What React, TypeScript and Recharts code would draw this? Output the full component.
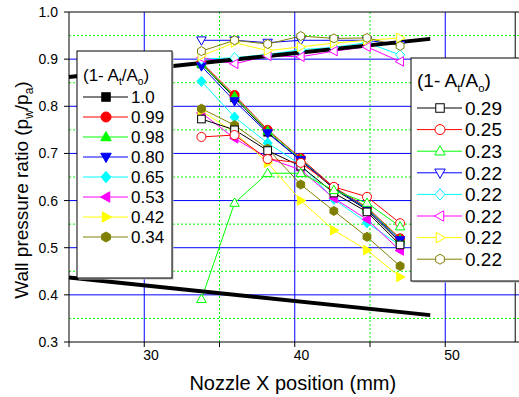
import React from "react";
import { LineChart, Line, XAxis, YAxis, ReferenceLine } from "recharts";

// nozzle positions (mm)
const xPositions = [33.8, 36, 38.2, 40.4, 42.6, 44.8, 47];

// filled symbols
const ratio100 = [0.89, 0.818, 0.745, 0.685, 0.625, 0.58, 0.512];
const ratio099 = [0.893, 0.824, 0.75, 0.69, 0.628, 0.586, 0.52];
const ratio098 = [0.89, 0.821, 0.748, 0.688, 0.626, 0.584, 0.518];
const ratio080 = [0.885, 0.811, 0.743, 0.686, 0.627, 0.582, 0.516];
const ratio065 = [0.853, 0.777, 0.722, 0.676, 0.603, 0.553, 0.505];
const ratio053 = [0.786, 0.732, 0.69, 0.665, 0.605, 0.56, 0.494];
const ratio042 = [0.79, 0.745, 0.68, 0.6, 0.537, 0.495, 0.438];
const ratio034 = [0.795, 0.76, 0.71, 0.634, 0.578, 0.523, 0.461];

// open symbols
const ratio029 = [0.773, 0.75, 0.706, 0.673, 0.616, 0.576, 0.506];
const ratio025 = [0.735, 0.739, 0.688, 0.68, 0.629, 0.608, 0.552];
const ratio023 = [0.391, 0.595, 0.658, 0.658, 0.622, 0.595, 0.545];
const ratio022a = [0.94, 0.94, 0.935, 0.94, 0.94, 0.94, 0.93];
const ratio022b = [0.9, 0.903, 0.91, 0.92, 0.925, 0.935, 0.909];
const ratio022c = [0.903, 0.89, 0.907, 0.905, 0.917, 0.926, 0.895];
const ratio022d = [0.907, 0.935, 0.918, 0.926, 0.934, 0.94, 0.945];
const ratio022e = [0.917, 0.94, 0.932, 0.949, 0.944, 0.945, 0.928];

// the two thick black guide lines
const upperGuide = [
  { x: 25, y: 0.862 },
  { x: 49, y: 0.943 },
];
const lowerGuide = [
  { x: 25, y: 0.437 },
  { x: 49, y: 0.357 },
];

const xTicks = [25, 30, 35, 40, 45, 50, 55];
const yTicks = [0.3, 0.4, 0.5, 0.6, 0.7, 0.8, 0.9, 1.0];
const majorX = [30, 40, 50];
const minorX = [35, 45];
const majorY = [0.4, 0.5, 0.6, 0.7, 0.8, 0.9];
const minorY = [0.35, 0.45, 0.55, 0.65, 0.75, 0.85, 0.95];

type Shape = "square" | "circle" | "up" | "down" | "diamond" | "left" | "right" | "hexagon";

interface Series {
  key: string;
  label: string;
  values: number[];
  color: string;
  shape: Shape;
  filled: boolean;
}

const filledSeries: Series[] = [
  { key: "f100", label: "1.0", values: ratio100, color: "#000000", shape: "square", filled: true },
  { key: "f099", label: "0.99", values: ratio099, color: "#ff0000", shape: "circle", filled: true },
  { key: "f098", label: "0.98", values: ratio098, color: "#00ff00", shape: "up", filled: true },
  { key: "f080", label: "0.80", values: ratio080, color: "#0000ff", shape: "down", filled: true },
  { key: "f065", label: "0.65", values: ratio065, color: "#00ffff", shape: "diamond", filled: true },
  { key: "f053", label: "0.53", values: ratio053, color: "#ff00ff", shape: "left", filled: true },
  { key: "f042", label: "0.42", values: ratio042, color: "#ffff00", shape: "right", filled: true },
  { key: "f034", label: "0.34", values: ratio034, color: "#808000", shape: "hexagon", filled: true },
];

const openSeries: Series[] = [
  { key: "o029", label: "0.29", values: ratio029, color: "#000000", shape: "square", filled: false },
  { key: "o025", label: "0.25", values: ratio025, color: "#ff0000", shape: "circle", filled: false },
  { key: "o023", label: "0.23", values: ratio023, color: "#00ff00", shape: "up", filled: false },
  { key: "o022a", label: "0.22", values: ratio022a, color: "#0000ff", shape: "down", filled: false },
  { key: "o022b", label: "0.22", values: ratio022b, color: "#00ffff", shape: "diamond", filled: false },
  { key: "o022c", label: "0.22", values: ratio022c, color: "#ff00ff", shape: "left", filled: false },
  { key: "o022d", label: "0.22", values: ratio022d, color: "#ffff00", shape: "right", filled: false },
  { key: "o022e", label: "0.22", values: ratio022e, color: "#808000", shape: "hexagon", filled: false },
];

const allSeries = [...filledSeries, ...openSeries];

const rows = xPositions.map((x, i) => {
  const row: Record<string, number> = { x };
  allSeries.forEach((s) => {
    row[s.key] = s.values[i];
  });
  return row;
});

const FONT = "'Liberation Sans', Arial, Helvetica, sans-serif";

function Marker({ cx, cy, s, r = 4.5 }: { cx: number; cy: number; s: Series; r?: number }) {
  const fill = s.filled ? s.color : "#ffffff";
  const common = { fill, stroke: s.color, strokeWidth: 1 };
  const pts = (list: number[][]) => list.map((p) => `${cx + p[0] * r},${cy + p[1] * r}`).join(" ");
  switch (s.shape) {
    case "square":
      return <rect x={cx - r * 0.85} y={cy - r * 0.85} width={r * 1.7} height={r * 1.7} {...common} />;
    case "circle":
      return <circle cx={cx} cy={cy} r={r} {...common} />;
    case "up":
      return <polygon points={pts([[0, -1.1], [1.05, 0.75], [-1.05, 0.75]])} {...common} />;
    case "down":
      return <polygon points={pts([[0, 1.1], [1.05, -0.75], [-1.05, -0.75]])} {...common} />;
    case "diamond":
      return <polygon points={pts([[0, -1.15], [1.0, 0], [0, 1.15], [-1.0, 0]])} {...common} />;
    case "left":
      return <polygon points={pts([[-1.1, 0], [0.75, -1.05], [0.75, 1.05]])} {...common} />;
    case "right":
      return <polygon points={pts([[1.1, 0], [-0.75, -1.05], [-0.75, 1.05]])} {...common} />;
    case "hexagon":
      return (
        <polygon
          points={pts([[0, -1], [0.87, -0.5], [0.87, 0.5], [0, 1], [-0.87, 0.5], [-0.87, -0.5]])}
          {...common}
        />
      );
  }
  return null;
}

const XTick = (props: any) => {
  const { x, y, payload } = props;
  const v = payload.value;
  if (v % 10 !== 0) return <g />;
  return (
    <text x={x - 1} y={y} dy="0.75em" textAnchor="start" fontSize={14} fill="#000" fontFamily={FONT}>
      {v}
    </text>
  );
};

const Title = ({ x, y, size }: { x: number; y: number; size: number }) => (
  <text x={x} y={y} fontSize={size} fontFamily={FONT} fill="#000">
    (1- A
    <tspan dy={size * 0.25} fontSize={size * 0.6}>t</tspan>
    <tspan dy={-size * 0.25}>/A</tspan>
    <tspan dy={size * 0.25} fontSize={size * 0.6}>o</tspan>
    <tspan dy={-size * 0.25}>)</tspan>
  </text>
);

const LegendBox = ({
  list,
  x,
  y,
  w,
  h,
  titleY,
  rowY,
  rowGap,
  size,
}: {
  list: Series[];
  x: number;
  y: number;
  w: number;
  h: number;
  titleY: number;
  rowY: number;
  rowGap: number;
  size: number;
}) => (
  <g>
    <rect x={x + 1.5} y={y + 1.5} width={w} height={h} fill="#bbbbbb" />
    <rect x={x} y={y} width={w} height={h} fill="#ffffff" stroke="#000" strokeWidth={1} />
    <Title x={x + 6} y={titleY} size={size} />
    {list.map((s, i) => {
      const cy = rowY + i * rowGap;
      return (
        <g key={s.key}>
          <line x1={x + 6} x2={x + 51} y1={cy} y2={cy} stroke={s.color} strokeWidth={1} />
          <Marker cx={x + 29} cy={cy} s={s} r={5} />
          <text x={x + 54} y={cy} dy="0.36em" fontSize={size} fontFamily={FONT} fill="#000">
            {s.label}
          </text>
        </g>
      );
    })}
  </g>
);

export default function App() {
  return (
    <div
      style={{
        position: "absolute",
        left: 0,
        top: 0,
        width: 519,
        height: 397,
        overflow: "hidden",
        background: "#fff",
        fontFamily: FONT,
      }}
    >
      <LineChart width={525} height={397} data={rows} margin={{ top: 12, right: 4.5, bottom: 25, left: 9 }}>
        {minorX.map((v) => (
          <ReferenceLine key={`mx${v}`} x={v} stroke="#00ff00" strokeDasharray="2 2" strokeWidth={1} />
        ))}
        {minorY.map((v) => (
          <ReferenceLine key={`my${v}`} y={v} stroke="#00ff00" strokeDasharray="2 2" strokeWidth={1} />
        ))}
        {majorX.map((v) => (
          <ReferenceLine key={`Mx${v}`} x={v} stroke="#0000ff" strokeWidth={1} />
        ))}
        {majorY.map((v) => (
          <ReferenceLine key={`My${v}`} y={v} stroke="#0000ff" strokeWidth={1} />
        ))}
        <ReferenceLine y={1.0} stroke="#000" strokeWidth={1} />
        <ReferenceLine x={54.65} stroke="#000" strokeWidth={1} />
        <XAxis
          dataKey="x"
          type="number"
          domain={[25, 55]}
          ticks={xTicks}
          allowDataOverflow
          height={30}
          tickSize={5}
          tickMargin={2}
          stroke="#000"
          axisLine={{ stroke: "#000" }}
          tickLine={{ stroke: "#000" }}
          tick={<XTick />}
          label={{
            value: "Nozzle X position (mm)",
            position: "insideBottom",
            offset: -18,
            fontSize: 20,
            fill: "#000",
            fontFamily: FONT,
            dx: -2,
          }}
        />
        <YAxis
          type="number"
          domain={[0.3, 1.0]}
          ticks={yTicks}
          allowDataOverflow
          width={60}
          tickSize={5}
          tickMargin={6}
          tickFormatter={(v: number) => v.toFixed(1)}
          tick={{ fontSize: 14, fill: "#000", fontFamily: FONT }}
          axisLine={{ stroke: "#000" }}
          tickLine={{ stroke: "#000" }}
        />
        {allSeries.map((s) => (
          <Line
            key={s.key}
            dataKey={s.key}
            stroke={s.color}
            strokeWidth={1}
            isAnimationActive={false}
            activeDot={false}
            dot={(p: any) => (
              <g key={`${s.key}-${p.index}`}>
                <Marker cx={p.cx} cy={p.cy} s={s} />
              </g>
            )}
          />
        ))}
        <ReferenceLine segment={upperGuide} stroke="#000" strokeWidth={4} />
        <ReferenceLine segment={lowerGuide} stroke="#000" strokeWidth={4} />
      </LineChart>
      <svg
        width={519}
        height={397}
        style={{ position: "absolute", left: 0, top: 0, pointerEvents: "none" }}
      >
        <text
          transform="translate(28,190) rotate(-90)"
          textAnchor="middle"
          fontSize={19}
          fontFamily={FONT}
          fill="#000"
        >
          Wall pressure ratio (p
          <tspan dy={5} fontSize={12}>w</tspan>
          <tspan dy={-5}>/p</tspan>
          <tspan dy={5} fontSize={12}>a</tspan>
          <tspan dy={-5}>)</tspan>
        </text>
        <LegendBox list={filledSeries} x={77} y={51} w={95} h={227} titleY={81} rowY={97} rowGap={20} size={17} />
        <LegendBox list={openSeries} x={411} y={58} w={110} h={223} titleY={87} rowY={108} rowGap={21.6} size={19} />
      </svg>
    </div>
  );
}
